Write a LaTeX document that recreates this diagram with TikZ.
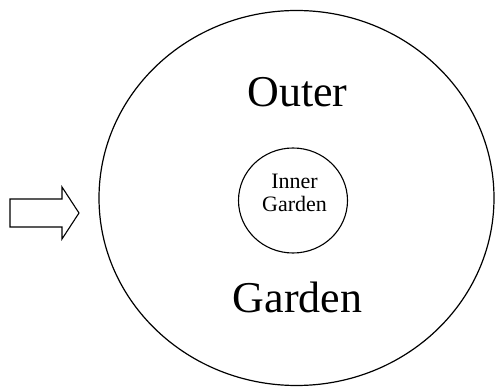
\documentclass[tikz,border=0pt]{standalone}
\usepackage{fontspec}
\setmainfont{Liberation Serif}
\usepackage{tikz}
\usetikzlibrary{calc}

\begin{document}
\begin{tikzpicture}[x=1pt, y=-1pt]
    \useasboundingbox (0,0) rectangle (495,387);

    % Outer garden
    \coordinate (O) at (296.5,198);
    \draw[line width=1.2pt] (O) ellipse (197.5pt and 187.5pt);

    % Inner garden
    \coordinate (I) at (293,200.5);
    \draw[line width=1.1pt] (I) ellipse (54.5pt and 52.5pt);

    % Labels
    \node[anchor=base, inner sep=0pt, font=\fontsize{44}{48}\selectfont] (outer) at (297.5,107) {Outer};
    \node[anchor=base, inner sep=0pt, font=\fontsize{44}{48}\selectfont] (garden) at (297.5,312) {Garden};
    \node[anchor=base, inner sep=0pt, font=\fontsize{22}{23}\selectfont, align=center] (inner) at (294.5,212) {Inner\\Garden};

    % Entrance arrow
    \draw[line width=1.1pt, line join=miter]
        (10,199) -- (62,199) -- (62,187) -- (79,213) -- (62,239)
        -- (62,227) -- (10,227) -- cycle;
\end{tikzpicture}
\end{document}
